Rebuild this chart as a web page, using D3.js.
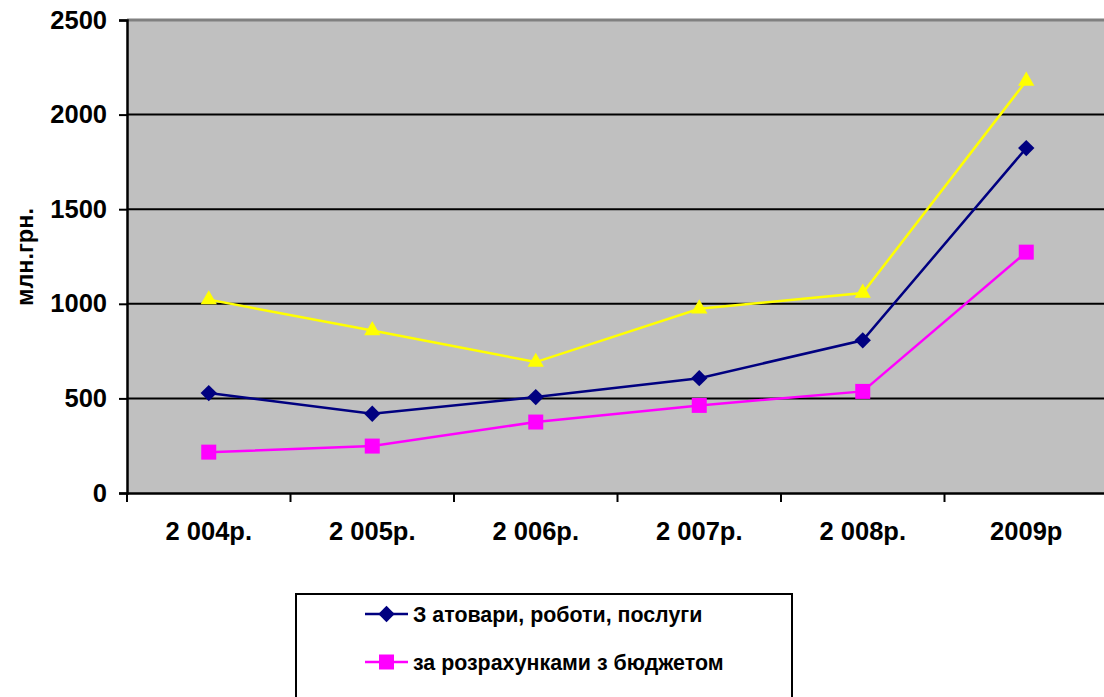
<!DOCTYPE html>
<html>
<head>
<meta charset="utf-8">
<script src="https://cdn.jsdelivr.net/npm/d3@7"></script>
<style>
  body { margin: 0; background: #fff; }
  svg { display: block; font-family: "Liberation Sans", Arial, sans-serif; font-weight: bold; }
</style>
</head>
<body>
<svg id="chart" width="1104" height="697"></svg>
<script>
// data
const years = ["2 004р.", "2 005р.", "2 006р.", "2 007р.", "2 008р.", "2009р"];
const goodsServices = [528, 419, 507, 607, 807, 1823];
const budgetSettlements = [216, 248, 375, 463, 537, 1273];
const thirdSeries = [1022, 859, 692, 974, 1057, 2178];
const yTicks = [0, 500, 1000, 1500, 2000, 2500];

const series = [
    { name: "З атовари, роботи, послуги", values: goodsServices, color: "#000080", marker: "diamond" },
    { name: "за розрахунками з бюджетом", values: budgetSettlements, color: "#FF00FF", marker: "square" },
    { name: "", values: thirdSeries, color: "#FFFF00", marker: "triangle" }
];

const svg = d3.select("#chart");
const plotLeft = 127, plotTop = 20, plotBottom = 493, plotRight = 1108;

const x = d3.scaleBand().domain(years).range([plotLeft, plotRight]);
const y = d3.scaleLinear().domain([0, 2500]).range([plotBottom, plotTop]);

// plot area
svg.append("rect")
    .attr("x", plotLeft).attr("y", plotTop)
    .attr("width", plotRight - plotLeft).attr("height", plotBottom - plotTop)
    .attr("fill", "#C0C0C0");

svg.append("line")
    .attr("x1", plotLeft).attr("x2", plotRight)
    .attr("y1", plotTop).attr("y2", plotTop)
    .attr("stroke", "#808080").attr("stroke-width", 3);

// gridlines
svg.selectAll("line.grid")
    .data(yTicks.filter(d => d > 0 && d < 2500))
    .join("line")
    .attr("class", "grid")
    .attr("x1", plotLeft).attr("x2", plotRight)
    .attr("y1", d => y(d)).attr("y2", d => y(d))
    .attr("stroke", "#000").attr("stroke-width", 2);

// y axis
const yAxis = svg.append("g")
    .attr("transform", `translate(${plotLeft},0)`)
    .call(d3.axisLeft(y).tickValues(yTicks).tickFormat(d3.format("d")).tickSize(8).tickPadding(12));
yAxis.select(".domain").attr("stroke-width", 2.5);
yAxis.selectAll(".tick line").attr("stroke-width", 2);
yAxis.selectAll("text").attr("font-size", 25.5).attr("fill", "#000");

// x axis
const xAxis = svg.append("g")
    .attr("transform", `translate(0,${plotBottom})`)
    .call(d3.axisBottom(x).tickSize(0).tickPadding(29));
xAxis.select(".domain").attr("stroke-width", 2.5);
xAxis.selectAll("text").attr("font-size", 25.5).attr("fill", "#000");
// tick marks between categories
svg.append("g")
    .selectAll("line")
    .data(years)
    .join("line")
    .attr("x1", d => x(d)).attr("x2", d => x(d))
    .attr("y1", plotBottom).attr("y2", plotBottom + 9)
    .attr("stroke", "#000").attr("stroke-width", 2);

svg.selectAll("g.tick text").attr("font-family", "Liberation Sans, Arial, sans-serif").attr("font-weight", "bold");

// y title
svg.append("text")
    .attr("transform", "translate(33,257) rotate(-90)")
    .attr("text-anchor", "middle")
    .attr("font-size", 23.5)
    .text("млн.грн.");

// markers
function markerPath(type) {
    if (type === "diamond") return d3.symbol(d3.symbolDiamond2, 170)();
    if (type === "square") return d3.symbol(d3.symbolSquare, 225)();
    return d3.symbol(d3.symbolTriangle, 115)();
}

const line = d3.line()
    .x((d, i) => x(years[i]) + x.bandwidth() / 2)
    .y(d => y(d));

// draw yellow first so it sits behind
[series[2], series[0], series[1]].forEach(s => {
    svg.append("path")
        .attr("d", line(s.values))
        .attr("fill", "none")
        .attr("stroke", s.color)
        .attr("stroke-width", 2.5);
    svg.append("g")
        .selectAll("path")
        .data(s.values)
        .join("path")
        .attr("transform", (d, i) => `translate(${x(years[i]) + x.bandwidth() / 2},${y(d)})`)
        .attr("d", markerPath(s.marker))
        .attr("fill", s.color);
});

// legend
svg.append("rect")
    .attr("x", 296).attr("y", 594)
    .attr("width", 496).attr("height", 120)
    .attr("fill", "#fff").attr("stroke", "#000").attr("stroke-width", 2);

const legendRows = series.filter(s => s.name);
const lg = svg.append("g")
    .selectAll("g")
    .data(legendRows)
    .join("g")
    .attr("transform", (d, i) => `translate(365,${614 + i * 48})`);
lg.append("line")
    .attr("x1", 0).attr("x2", 43)
    .attr("stroke", d => d.color).attr("stroke-width", 2.5);
lg.append("path")
    .attr("transform", "translate(21.5,0)")
    .attr("d", d => markerPath(d.marker))
    .attr("fill", d => d.color);
lg.append("text")
    .attr("transform", "translate(48,0) scale(0.93,1)")
    .attr("dy", "0.35em")
    .attr("font-size", 23)
    .text(d => d.name);
</script>
</body>
</html>
